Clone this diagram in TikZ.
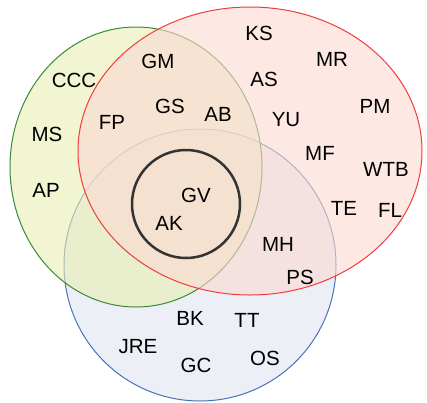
\documentclass[tikz,border=0pt]{standalone}
\usepackage{fontspec}
\setmainfont{Liberation Sans}
\usepackage{xcolor}
\usepackage{tikz}
\usetikzlibrary{shapes.geometric}

\definecolor{redfill}{HTML}{FCD9D2}
\definecolor{greenfill}{HTML}{E8EEB2}
\definecolor{bluefill}{HTML}{D9DFEB}
\definecolor{redline}{HTML}{F03C3C}
\definecolor{greenline}{HTML}{3A8A3A}
\definecolor{blueline}{HTML}{4A72B8}

\begin{document}
\begin{tikzpicture}[x=1pt, y=-1pt]
    \tikzstyle{member}=[inner sep=0pt, font=\fontsize{20.5}{20.5}\selectfont]
    \useasboundingbox (0,0) rectangle (427,402);

    % the three sets
    \filldraw[fill=bluefill, fill opacity=0.5, draw=blueline, line width=1pt]
    (200,265) circle (136);
    \filldraw[fill=greenfill, fill opacity=0.6, draw=greenline, line width=1pt]
    (136,167) ellipse (126 and 140);
    \filldraw[fill=redfill, fill opacity=0.6, draw=redline, line width=1pt]
    (250,151) ellipse (172 and 144);
    \draw[black!80, line width=2.5pt] (186,204) circle (54);

\node[member](ccc) at (74,80){CCC};
\node[member](ms) at (47,134){MS};
\node[member](ap) at (46,190){AP};

\node[member](gm) at (158,61){GM};
\node[member](fp) at (112,122){FP};
\node[member](gs) at (170,106){GS};
\node[member](ab) at (218,114){AB};
\node[member](gv) at (196,195){GV};
\node[member](ak) at (169,223){AK};

\node[member](ks) at (259,33){KS};
\node[member](mr) at (332,59){MR};
\node[member](as) at (264,79){AS};
\node[member](pm) at (375,106){PM};
\node[member](yu) at (286,120){YU};
\node[member](mf) at (320,153){MF};
\node[member](wtb) at (386,169){WTB};
\node[member](te) at (344,208){TE};
\node[member](fl) at (390,210){FL};

\node[member](mh) at (278,244){MH};
\node[member](ps) at (300,277){PS};

\node[member](bk) at (190,318){BK};
\node[member](tt) at (247,320){TT};
\node[member](jre) at (138,347){JRE};
\node[member](gc) at (196,365){GC};
\node[member](os) at (265,358){OS};
\end{tikzpicture}
\end{document}
